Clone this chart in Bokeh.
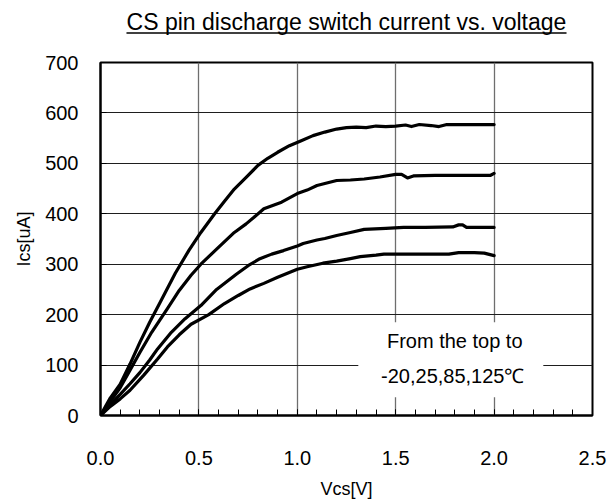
from bokeh.plotting import figure
from bokeh.layouts import column
from bokeh.models import Range1d, FixedTicker, NumeralTickFormatter, Label, BoxAnnotation
from bokeh.embed import file_html
from bokeh.resources import INLINE
from bokeh.core.properties import value

# ---- data ----
v_m20 = [0.00, 0.05, 0.10, 0.15, 0.20, 0.25, 0.30, 0.38, 0.45, 0.51, 0.58, 0.63, 0.68, 0.74, 0.80,
         0.85, 0.90, 0.96, 1.02, 1.08, 1.14, 1.20, 1.25, 1.30, 1.35, 1.40, 1.45, 1.50, 1.55, 1.58,
         1.62, 1.68, 1.72, 1.76, 1.85, 2.00]
i_m20 = [0, 35, 62, 102, 145, 185, 222, 282, 328, 363, 400, 425, 449, 472, 496,
         510, 522, 535, 545, 555, 562, 568, 571, 572, 571, 574, 573, 574, 576, 573,
         577, 575, 573, 577, 577, 577]

v_25 = [0.00, 0.05, 0.10, 0.15, 0.20, 0.26, 0.34, 0.40, 0.46, 0.51, 0.59, 0.68, 0.74, 0.78, 0.83,
        0.92, 1.00, 1.05, 1.10, 1.20, 1.27, 1.34, 1.42, 1.50, 1.53, 1.56, 1.59, 1.70, 1.85, 1.98, 2.00]
i_25 = [0, 28, 55, 90, 125, 165, 212, 248, 278, 300, 330, 363, 380, 393, 410,
        423, 440, 447, 456, 466, 467, 469, 473, 478, 478, 471, 475, 476, 476, 476, 480]

v_85 = [0.00, 0.05, 0.10, 0.15, 0.20, 0.25, 0.29, 0.36, 0.43, 0.51, 0.59, 0.69, 0.75, 0.81, 0.87,
        0.93, 1.00, 1.03, 1.10, 1.14, 1.20, 1.27, 1.34, 1.45, 1.54, 1.65, 1.79, 1.82, 1.84, 1.86, 2.00]
i_85 = [0, 22, 42, 63, 85, 110, 132, 165, 192, 218, 250, 280, 297, 311, 320,
        327, 336, 341, 348, 351, 357, 363, 369, 371, 373, 373, 374, 378, 378, 373, 373]

v_125 = [0.00, 0.05, 0.10, 0.15, 0.22, 0.29, 0.34, 0.40, 0.46, 0.55, 0.63, 0.70, 0.76, 0.83, 0.90,
         0.95, 1.00, 1.05, 1.13, 1.20, 1.27, 1.32, 1.40, 1.44, 1.60, 1.77, 1.82, 1.90, 1.95, 2.00]
i_125 = [0, 18, 33, 50, 80, 112, 136, 160, 181, 200, 222, 238, 251, 262, 274,
         282, 290, 295, 302, 306, 311, 315, 318, 320, 320, 320, 323, 323, 322, 317]

x_ticks = [0.0, 0.5, 1.0, 1.5, 2.0, 2.5]
y_ticks = [0, 100, 200, 300, 400, 500, 600, 700]
x_minor = [round(0.1 * k, 1) for k in range(26)]

title_text = "CS pin discharge switch current vs. voltage"
note_line1 = "From the top to"
note_line2 = "-20,25,85,125\u2103"

FONT = "Liberation Sans"

# ---- title strip (text + underline), frame aligned with the chart frame ----
t = figure(width=611, height=52, output_backend="svg", toolbar_location=None,
           x_range=Range1d(0, 2.5), y_range=Range1d(0, 52),
           min_border_left=100, min_border_right=19, min_border_top=0, min_border_bottom=0,
           x_axis_type=None, y_axis_type=None)
t.outline_line_color = None
t.grid.visible = False
t.background_fill_color = "white"
t.border_fill_color = "white"
t.text(x=[1.25], y=[31], text=[title_text], text_align="center", text_baseline="alphabetic",
       text_font=value(FONT), text_font_size="23px", text_color="black")
t.line(x=[0.132, 2.368], y=[19.5, 19.5], line_color="black", line_width=1.5)

# ---- main chart ----
p = figure(width=611, height=452, output_backend="svg", toolbar_location=None,
           x_range=Range1d(0, 2.5), y_range=Range1d(0, 700),
           min_border_left=100, min_border_right=19, min_border_top=10, min_border_bottom=89)
p.background_fill_color = "white"
p.border_fill_color = "white"
p.outline_line_color = "black"
p.outline_line_width = 2

p.xaxis.ticker = FixedTicker(ticks=x_ticks, minor_ticks=x_minor)
p.yaxis.ticker = FixedTicker(ticks=y_ticks, minor_ticks=[])
p.xaxis.formatter = NumeralTickFormatter(format="0.0")
for ax in (p.xaxis[0], p.yaxis[0]):
    ax.axis_line_color = "black"
    ax.axis_line_width = 2
    ax.major_tick_line_color = "black"
    ax.major_tick_line_width = 1
    ax.major_tick_in = 6
    ax.major_tick_out = 0
    ax.minor_tick_line_color = "black"
    ax.minor_tick_in = 6
    ax.minor_tick_out = 0
    ax.major_label_text_font = FONT
    ax.major_label_text_font_size = "20px"
    ax.major_label_text_color = "black"
    ax.axis_label_text_font = FONT
    ax.axis_label_text_font_size = "18px"
    ax.axis_label_text_font_style = "normal"
    ax.axis_label_text_color = "black"
p.xaxis.major_label_standoff = 35
p.xaxis.axis_label = "Vcs[V]"
p.xaxis.axis_label_standoff = 11
p.yaxis.major_label_standoff = 22
p.yaxis.axis_label = "Ics[uA]"
p.yaxis.axis_label_standoff = 8

p.xgrid.grid_line_color = "#6e6e6e"
p.xgrid.grid_line_width = 1.3
p.ygrid.grid_line_color = "#1e1e1e"
p.ygrid.grid_line_width = 1

for vs, cs in ((v_m20, i_m20), (v_25, i_25), (v_85, i_85), (v_125, i_125)):
    p.line(vs, cs, line_color="black", line_width=3.2, line_join="round", line_cap="round")

p.add_layout(BoxAnnotation(left=1.31, right=2.25, bottom=36, top=185,
                           fill_color="white", fill_alpha=1.0, line_alpha=0.0, level="annotation"))
p.add_layout(Label(x=1.80, y=147, text=note_line1, text_align="center", text_baseline="middle",
                   text_font=FONT, text_font_size="20px", text_color="black"))
p.add_layout(Label(x=1.79, y=79, text=note_line2, text_align="center", text_baseline="middle",
                   text_font=FONT, text_font_size="20px", text_color="black"))

layout = column(t, p, spacing=0)
open("out.html", "w").write(file_html(layout, INLINE))
